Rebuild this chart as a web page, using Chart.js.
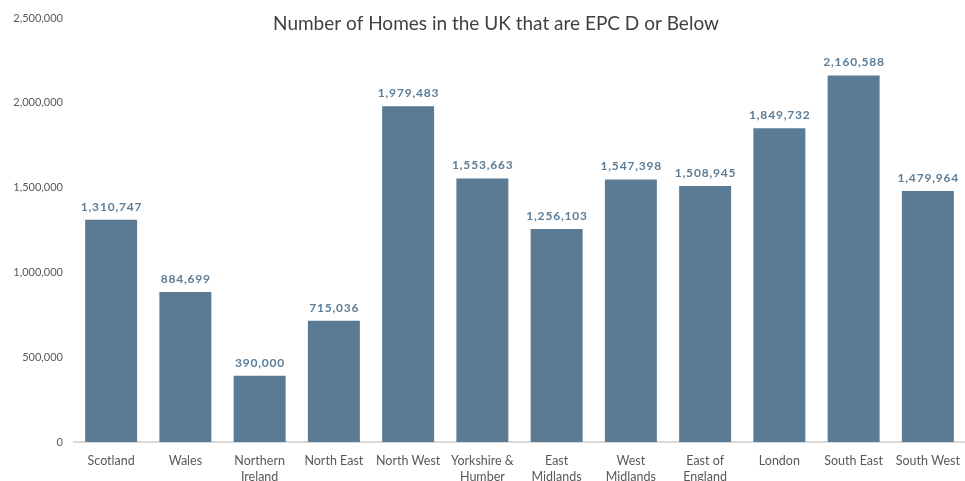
<!DOCTYPE html>
<html>
<head>
<meta charset="utf-8">
<script src="https://cdn.jsdelivr.net/npm/chart.js@4/dist/chart.umd.min.js"></script>
<style>
html,body{margin:0;padding:0;background:#fff;}
#wrap{width:965px;height:481px;position:relative;}
</style>
</head>
<body>
<div id="wrap"><canvas id="c" width="965" height="481"></canvas></div>
<script>
const titleText = "Number of Homes in the UK that are EPC D or Below";
const categories = [
  ["Scotland"], ["Wales"], ["Northern", "Ireland"], ["North East"], ["North West"],
  ["Yorkshire &", "Humber"], ["East", "Midlands"], ["West", "Midlands"], ["East of", "England"],
  ["London"], ["South East"], ["South West"]
];
const homesEpcDOrBelow = [1310747, 884699, 390000, 715036, 1979483, 1553663, 1256103, 1547398, 1508945, 1849732, 2160588, 1479964];
const yTicks = [0, 500000, 1000000, 1500000, 2000000, 2500000];

const FONT = "Lato, 'Open Sans', sans-serif";
const BAR = "#5b7b94";
const fmt = v => v.toLocaleString("en-GB");

const titlePlugin = {
  id: "customTitle",
  afterDraw(chart) {
    const ctx = chart.ctx;
    ctx.save();
    ctx.font = "19px " + FONT;
    ctx.fillStyle = "#404040";
    ctx.textAlign = "center";
    ctx.textBaseline = "middle";
    ctx.fillText(titleText, 496, 24);
    ctx.restore();
  }
};
const labelPlugin = {
  id: "valueLabels",
  afterDatasetsDraw(chart) {
    const ctx = chart.ctx;
    const meta = chart.getDatasetMeta(0);
    ctx.save();
    ctx.font = "bold 12px " + FONT;
    ctx.fillStyle = "#5b7d98";
    ctx.textAlign = "center";
    ctx.textBaseline = "bottom";
    if ("letterSpacing" in ctx) ctx.letterSpacing = "0.8px";
    meta.data.forEach((bar, i) => {
      ctx.fillText(fmt(homesEpcDOrBelow[i]), bar.x + 0.4, bar.y - 7);
    });
    ctx.restore();
  }
};

new Chart(document.getElementById("c"), {
  type: "bar",
  data: {
    labels: categories,
    datasets: [{
      data: homesEpcDOrBelow,
      backgroundColor: BAR,
      barPercentage: 0.7,
      categoryPercentage: 1.0
    }]
  },
  plugins: [titlePlugin, labelPlugin],
  options: {
    responsive: false,
    animation: false,
    layout: { padding: { top: 18, right: 0, bottom: 0, left: 0 } },
    plugins: { legend: { display: false }, title: { display: false }, tooltip: { enabled: false } },
    scales: {
      x: {
        grid: { display: false, drawTicks: false },
        border: { display: true, color: "#d9d9d9", width: 2 },
        ticks: { color: "#595959", font: { family: FONT, size: 12.5, lineHeight: 1.3 }, padding: 11, maxRotation: 0, autoSkip: false },
        afterFit(s) { s.height = 39; s.paddingLeft = 0; s.paddingRight = 0; }
      },
      y: {
        min: 0, max: 2500000,
        afterBuildTicks(s) { s.ticks = yTicks.map(v => ({ value: v })); },
        grid: { display: false, drawTicks: false },
        border: { display: false },
        ticks: { color: "#595959", font: { family: FONT, size: 11 }, padding: 11, callback: v => fmt(v) },
        afterFit(s) { s.width = 74; s.paddingTop = 0; s.paddingBottom = 0; }
      }
    }
  }
});
</script>
</body>
</html>
